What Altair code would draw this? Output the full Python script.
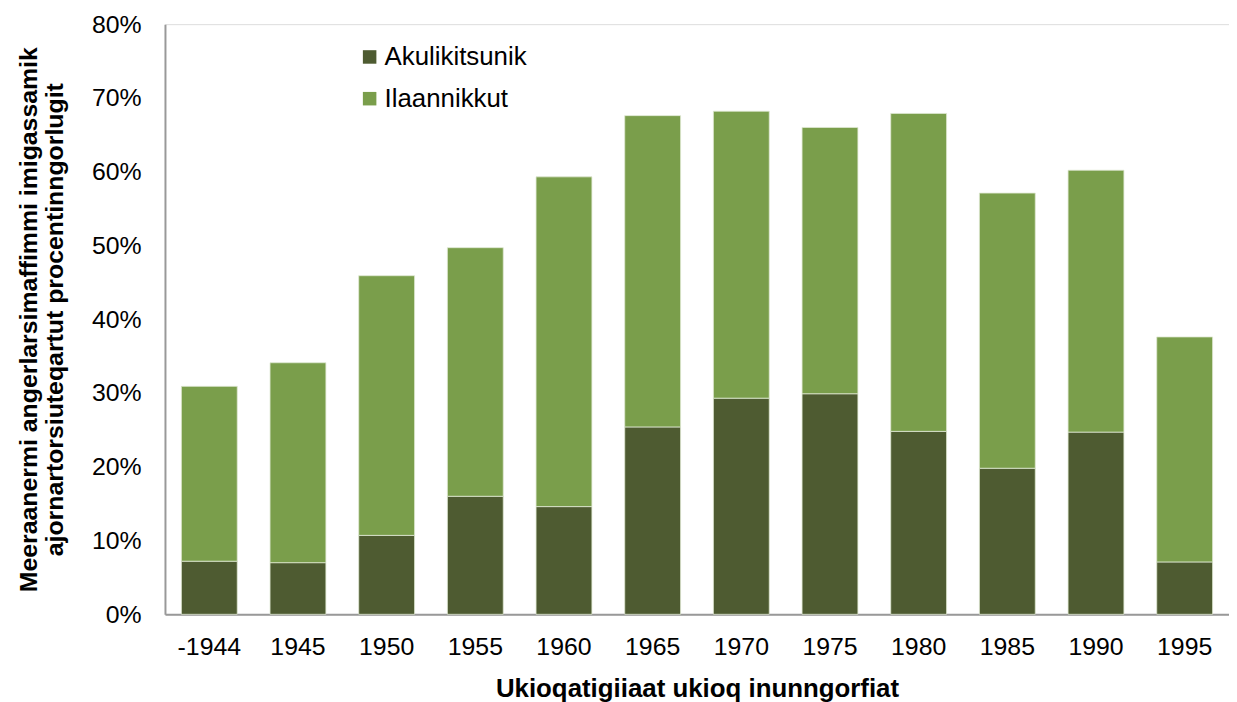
import altair as alt
import pandas as pd

years = ["-1944", "1945", "1950", "1955", "1960", "1965", "1970", "1975", "1980", "1985", "1990", "1995"]
akulikitsunik = [7.2, 7.0, 10.7, 16.0, 14.6, 25.4, 29.3, 29.9, 24.8, 19.8, 24.7, 7.1]
totals = [30.9, 34.1, 45.9, 49.7, 59.3, 67.6, 68.2, 66.0, 67.9, 57.1, 60.2, 37.6]
ilaannikkut = [round(t - a, 1) for t, a in zip(totals, akulikitsunik)]

series = ["Akulikitsunik", "Ilaannikkut"]
colors = ["#4E5B31", "#7A9E4B"]

rows = []
for y, a, i in zip(years, akulikitsunik, ilaannikkut):
    rows.append({"year": y, "serie": series[0], "value": a / 100, "ord": 0})
    rows.append({"year": y, "serie": series[1], "value": i / 100, "ord": 1})
df = pd.DataFrame(rows)

font = "Liberation Sans"

chart = alt.Chart(df).mark_bar(stroke="#dfe8d3", strokeWidth=0.8).encode(
    x=alt.X("year:N", sort=years, scale=alt.Scale(paddingInner=0.37, paddingOuter=0.185),
            axis=alt.Axis(title="Ukioqatigiiaat ukioq inunngorfiat", labelAngle=0,
                          labelFontSize=25, labelPadding=20, ticks=False,
                          domainColor="#999999", domainWidth=2,
                          titleFontSize=26, titleFontWeight="bold", titlePadding=17,
                          labelColor="#000000", titleColor="#000000")),
    y=alt.Y("value:Q", stack="zero", scale=alt.Scale(domain=[0, 0.8]),
            axis=alt.Axis(format=".0%", values=[0, 0.1, 0.2, 0.3, 0.4, 0.5, 0.6, 0.7, 0.8],
                          title=["Meeraanermi angerlarsimaffimmi imigassamik",
                                 "ajornartorsiuteqartut procentinngorlugit"],
                          grid=False, ticks=False, labelFontSize=25, labelPadding=24,
                          domainColor="#999999", domainWidth=2,
                          titleFontSize=25, titleFontWeight="bold", titlePadding=24,
                          titleLineHeight=26,
                          labelColor="#000000", titleColor="#000000")),
    color=alt.Color("serie:N", sort=series, scale=alt.Scale(domain=series, range=colors),
                    legend=alt.Legend(title=None, orient="none", legendX=193, legendY=20,
                                      symbolType="square", symbolSize=185,
                                      symbolStrokeWidth=0, labelOffset=2,
                                      labelFontSize=26, rowPadding=16, labelColor="#000000")),
    order=alt.Order("ord:Q"),
).properties(
    width=1071, height=594,
    autosize=alt.AutoSizeParams(type="none"),
    padding={"left": 158, "top": 14, "right": 0, "bottom": 86},
).configure_view(stroke=None).configure(font=font)

chart.save("out.html", embed_options={"renderer": "svg", "actions": False})
